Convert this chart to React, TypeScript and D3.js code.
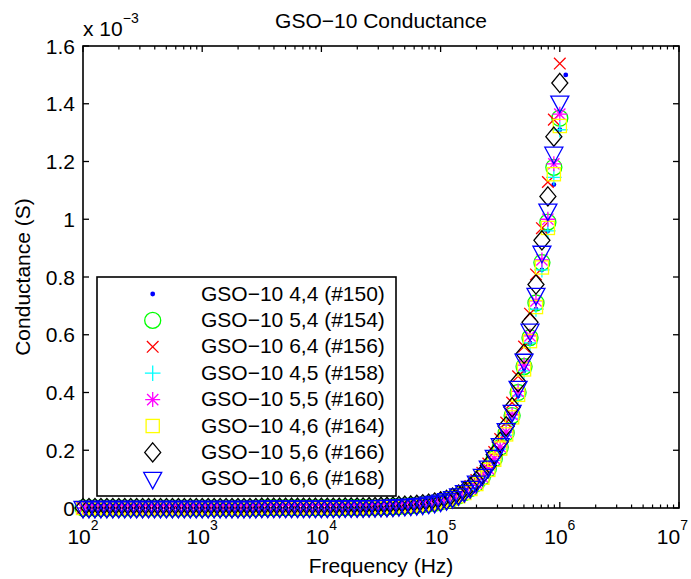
import React from "react";
import * as d3 from "d3";

// Frequency sweep (Hz), 20 points per decade, 100 Hz .. 1 MHz
const FREQ = [
  100, 112.2, 125.9, 141.3, 158.5, 177.8, 199.5, 223.9, 251.2, 281.8,
  316.2, 354.8, 398.1, 446.7, 501.2, 562.3, 631.0, 707.9, 794.3, 891.3,
  1000, 1122, 1259, 1413, 1585, 1778, 1995, 2239, 2512, 2818,
  3162, 3548, 3981, 4467, 5012, 5623, 6310, 7079, 7943, 8913,
  10000, 11220, 12590, 14130, 15850, 17780, 19950, 22390, 25120, 28180,
  31620, 35480, 39810, 44670, 50120, 56230, 63100, 70790, 79430, 89130,
  100000, 112200, 125900, 141300, 158500, 177800, 199500, 223900, 251200, 281800,
  316200, 354800, 398100, 446700, 501200, 562300, 631000, 707900, 794300, 891300,
  1000000,
];
const DOT_FREQ = [...FREQ, 1122000];

// Conductance values, in units of 1e-3 S
const G_150 = [
  0,0,0,0,0,0,0,0,0,0, 0,0,0,0,0,0,0,0,0,0, 0,0,0,0,0,0,0,0,0,0,
  0.001,0.001,0.001,0.001,0.001,0.001,0.001,0.001,0.001,0.001,
  0.001,0.001,0.001,0.001,0.002,0.002,0.002,0.002,0.003,0.003,
  0.004,0.004,0.005,0.006,0.007,0.008,0.010,0.011,0.014,0.016,
  0.020,0.025,0.032,0.041,0.051,0.065,0.082,0.104,0.131,0.165,
  0.204,0.252,0.310,0.388,0.475,0.572,0.689,0.825,0.960,1.120,
  1.310,1.500,
];
const G_154 = [
  0,0,0,0,0,0,0,0,0,0, 0,0,0,0,0,0,0,0,0,0, 0,0,0,0,0,0,0,0,0,0,
  0.001,0.001,0.001,0.001,0.001,0.001,0.001,0.001,0.001,0.001,
  0.001,0.001,0.001,0.001,0.002,0.002,0.002,0.002,0.003,0.003,
  0.004,0.004,0.005,0.006,0.007,0.008,0.010,0.012,0.014,0.017,
  0.021,0.026,0.033,0.042,0.053,0.067,0.085,0.107,0.135,0.170,
  0.210,0.260,0.320,0.400,0.490,0.590,0.710,0.850,0.990,1.180,
  1.350,
];
const G_156 = [
  0,0,0,0,0,0,0,0,0,0, 0,0,0,0,0,0,0,0,0,0, 0,0,0,0,0,0,0,0,0,0,
  0.001,0.001,0.001,0.001,0.001,0.001,0.001,0.001,0.001,0.001,
  0.001,0.001,0.001,0.001,0.002,0.002,0.002,0.002,0.003,0.003,
  0.005,0.005,0.006,0.007,0.008,0.009,0.011,0.014,0.016,0.019,
  0.024,0.030,0.038,0.048,0.060,0.076,0.097,0.122,0.154,0.194,
  0.239,0.296,0.365,0.456,0.559,0.673,0.809,0.969,1.129,1.345,
  1.539,
];
const G_158 = [
  0,0,0,0,0,0,0,0,0,0, 0,0,0,0,0,0,0,0,0,0, 0,0,0,0,0,0,0,0,0,0,
  0.001,0.001,0.001,0.001,0.001,0.001,0.001,0.001,0.001,0.001,
  0.001,0.001,0.001,0.001,0.002,0.002,0.002,0.002,0.003,0.003,
  0.004,0.004,0.005,0.006,0.007,0.008,0.010,0.012,0.014,0.016,
  0.020,0.025,0.032,0.041,0.051,0.065,0.082,0.104,0.131,0.165,
  0.204,0.252,0.310,0.388,0.475,0.572,0.689,0.825,0.960,1.145,
  1.310,
];
const G_160 = [
  0,0,0,0,0,0,0,0,0,0, 0,0,0,0,0,0,0,0,0,0, 0,0,0,0,0,0,0,0,0,0,
  0.001,0.001,0.001,0.001,0.001,0.001,0.001,0.001,0.001,0.001,
  0.001,0.001,0.001,0.001,0.002,0.002,0.002,0.002,0.003,0.003,
  0.004,0.004,0.005,0.006,0.007,0.008,0.010,0.012,0.014,0.017,
  0.021,0.026,0.033,0.042,0.054,0.068,0.086,0.108,0.136,0.172,
  0.212,0.263,0.323,0.404,0.495,0.596,0.717,0.859,1.000,1.192,
  1.364,
];
const G_164 = [
  0,0,0,0,0,0,0,0,0,0, 0,0,0,0,0,0,0,0,0,0, 0,0,0,0,0,0,0,0,0,0,
  0.001,0.001,0.001,0.001,0.001,0.001,0.001,0.001,0.001,0.001,
  0.001,0.001,0.001,0.001,0.002,0.002,0.002,0.002,0.003,0.003,
  0.004,0.004,0.005,0.006,0.007,0.008,0.010,0.012,0.014,0.017,
  0.021,0.025,0.032,0.041,0.052,0.066,0.083,0.105,0.132,0.167,
  0.206,0.255,0.314,0.392,0.480,0.578,0.696,0.833,0.970,1.156,
  1.323,
];
const G_166 = [
  0,0,0,0,0,0,0,0,0,0, 0,0,0,0,0,0,0,0,0,0, 0,0,0,0,0,0,0,0,0,0,
  0.001,0.001,0.001,0.001,0.001,0.001,0.001,0.001,0.001,0.001,
  0.001,0.001,0.001,0.001,0.002,0.002,0.002,0.002,0.003,0.003,
  0.004,0.004,0.005,0.007,0.008,0.009,0.011,0.013,0.015,0.019,
  0.023,0.028,0.036,0.046,0.058,0.073,0.093,0.117,0.147,0.185,
  0.229,0.283,0.349,0.436,0.534,0.643,0.774,0.927,1.079,1.286,
  1.472,
];
const G_168 = [
  0,0,0,0,0,0,0,0,0,0, 0,0,0,0,0,0,0,0,0,0, 0,0,0,0,0,0,0,0,0,0,
  0.001,0.001,0.001,0.001,0.001,0.001,0.001,0.001,0.001,0.001,
  0.001,0.001,0.001,0.001,0.002,0.002,0.002,0.002,0.003,0.003,
  0.004,0.004,0.005,0.006,0.007,0.008,0.010,0.012,0.015,0.018,
  0.022,0.027,0.034,0.044,0.055,0.070,0.088,0.111,0.140,0.177,
  0.218,0.270,0.333,0.416,0.510,0.614,0.738,0.884,1.030,1.227,
  1.404,
];

const SERIES_LABELS = [
  "GSO\u221210 4,4 (#150)",
  "GSO\u221210 5,4 (#154)",
  "GSO\u221210 6,4 (#156)",
  "GSO\u221210 4,5 (#158)",
  "GSO\u221210 5,5 (#160)",
  "GSO\u221210 4,6 (#164)",
  "GSO\u221210 5,6 (#166)",
  "GSO\u221210 6,6 (#168)",
];
const SERIES_VALUES = [G_150, G_154, G_156, G_158, G_160, G_164, G_166, G_168];
const SERIES_FREQS = [DOT_FREQ, FREQ, FREQ, FREQ, FREQ, FREQ, FREQ, FREQ];
const SERIES_MARKERS = ["dot", "circle", "x", "plus", "star", "square", "diamond", "tri"];
const SERIES_COLORS = ["#0000ff", "#00ff00", "#ff0000", "#00ffff", "#ff00ff", "#ffff00", "#000000", "#0000ff"];

const Y_TICKS = [0, 0.2, 0.4, 0.6, 0.8, 1.0, 1.2, 1.4, 1.6];
const Y_TICK_LABELS = ["0", "0.2", "0.4", "0.6", "0.8", "1", "1.2", "1.4", "1.6"];
const X_DECADES = [2, 3, 4, 5, 6, 7];

const W = 691;
const H = 579;
const M = { left: 83, right: 679, top: 46, bottom: 508 };
const FONT = "'Liberation Sans', Arial, Helvetica, sans-serif";
const FS = 21;
const SW = 1.3;

function Marker({ type, x, y, color }: { type: string; x: number; y: number; color: string }) {
  const common = { stroke: color, strokeWidth: SW, fill: "none" };
  switch (type) {
    case "dot":
      return <circle cx={x} cy={y} r={2.4} fill={color} stroke="none" />;
    case "circle":
      return <circle cx={x} cy={y} r={8} {...common} />;
    case "x": {
      const s = 5.8;
      return <path d={`M${x - s},${y - s}L${x + s},${y + s}M${x - s},${y + s}L${x + s},${y - s}`} {...common} />;
    }
    case "plus": {
      const s = 7.8;
      return <path d={`M${x - s},${y}L${x + s},${y}M${x},${y - s}L${x},${y + s}`} {...common} />;
    }
    case "star": {
      const s = 7.5;
      const d = 5.6;
      return (
        <path
          d={`M${x - s},${y}L${x + s},${y}M${x},${y - s}L${x},${y + s}M${x - d},${y - d}L${x + d},${y + d}M${x - d},${y + d}L${x + d},${y - d}`}
          {...common}
        />
      );
    }
    case "square": {
      const s = 6.6;
      return <rect x={x - s} y={y - s} width={2 * s} height={2 * s} {...common} />;
    }
    case "diamond": {
      const w = 8;
      const h = 9.6;
      return <path d={`M${x},${y - h}L${x + w},${y}L${x},${y + h}L${x - w},${y}Z`} {...common} />;
    }
    case "tri": {
      return <path d={`M${x - 9},${y - 6.5}L${x + 9},${y - 6.5}L${x},${y + 10}Z`} {...common} />;
    }
    default:
      return null;
  }
}

export default function App() {
  const xs = d3.scaleLog().domain([1e2, 1e7]).range([M.left, M.right]);
  const ys = d3.scaleLinear().domain([0, 1.6]).range([M.bottom, M.top]);

  const minor: number[] = [];
  for (const d of X_DECADES.slice(0, -1)) {
    for (let k = 2; k <= 9; k++) minor.push(k * Math.pow(10, d));
  }

  const legendX = 97;
  const legendY = 277;
  const legendW = 299;
  const legendH = 219;
  const rowY0 = 294;
  const rowStep = 26.4;

  return (
    <svg
      width={W}
      height={H}
      style={{ position: "absolute", left: 0, top: 0, background: "#fff" }}
      fontFamily={FONT}
    >
      <rect x={0} y={0} width={W} height={H} fill="#fff" />
      {/* axes frame */}
      <rect
        x={M.left}
        y={M.top}
        width={M.right - M.left}
        height={M.bottom - M.top}
        fill="#fff"
        stroke="#000"
        strokeWidth={1.6}
      />
      {/* x ticks */}
      {X_DECADES.map((d, i) => {
        const x = xs(Math.pow(10, d));
        const last = i === X_DECADES.length - 1;
        return (
          <g key={"xt" + d}>
            <line x1={x} x2={x} y1={M.bottom} y2={M.bottom - 6} stroke="#000" strokeWidth={1.3} />
            <line x1={x} x2={x} y1={M.top} y2={M.top + 6} stroke="#000" strokeWidth={1.3} />
            <text
              x={last ? W - 3 : x}
              y={544}
              textAnchor={last ? "end" : "middle"}
              fontSize={FS}
              fill="#000"
            >
              10
              <tspan dy={-14} fontSize={14}>
                {d}
              </tspan>
            </text>
          </g>
        );
      })}
      {minor.map((f, i) => {
        const x = xs(f);
        return (
          <g key={"mt" + i}>
            <line x1={x} x2={x} y1={M.bottom} y2={M.bottom - 3.5} stroke="#000" strokeWidth={1.2} />
            <line x1={x} x2={x} y1={M.top} y2={M.top + 3.5} stroke="#000" strokeWidth={1.2} />
          </g>
        );
      })}
      {/* y ticks */}
      {Y_TICKS.map((v, i) => {
        const y = ys(v);
        return (
          <g key={"yt" + i}>
            <line x1={M.left} x2={M.left + 6} y1={y} y2={y} stroke="#000" strokeWidth={1.3} />
            <line x1={M.right} x2={M.right - 6} y1={y} y2={y} stroke="#000" strokeWidth={1.3} />
            <text x={75} y={y + 2} textAnchor="end" dominantBaseline="middle" fontSize={FS} fill="#000">
              {Y_TICK_LABELS[i]}
            </text>
          </g>
        );
      })}
      {/* exponent label */}
      <text x={83} y={36} fontSize={FS} fill="#000">
        x 10
        <tspan dy={-13} fontSize={14}>
          {"\u22123"}
        </tspan>
      </text>
      {/* title */}
      <text x={(M.left + M.right) / 2} y={28} textAnchor="middle" fontSize={FS} fill="#000">
        {"GSO\u221210 Conductance"}
      </text>
      {/* axis labels */}
      <text x={(M.left + M.right) / 2} y={573} textAnchor="middle" fontSize={FS} fill="#000">
        Frequency (Hz)
      </text>
      <text
        transform={`translate(30,${(M.top + M.bottom) / 2}) rotate(-90)`}
        textAnchor="middle"
        fontSize={FS}
        fill="#000"
      >
        Conductance (S)
      </text>
      {/* data */}
      {SERIES_VALUES.map((vals, si) => (
        <g key={"s" + si}>
          {vals.map((v, i) => (
            <Marker
              key={i}
              type={SERIES_MARKERS[si]}
              x={xs(SERIES_FREQS[si][i])}
              y={ys(v)}
              color={SERIES_COLORS[si]}
            />
          ))}
        </g>
      ))}
      {/* legend */}
      <rect x={legendX} y={legendY} width={legendW} height={legendH} fill="#fff" stroke="#000" strokeWidth={1.6} />
      {SERIES_LABELS.map((lab, i) => {
        const y = rowY0 + i * rowStep;
        return (
          <g key={"lg" + i}>
            <Marker type={SERIES_MARKERS[i]} x={152.7} y={y} color={SERIES_COLORS[i]} />
            <text x={201} y={y + 1} dominantBaseline="middle" fontSize={FS} fill="#000">
              {lab}
            </text>
          </g>
        );
      })}
    </svg>
  );
}
